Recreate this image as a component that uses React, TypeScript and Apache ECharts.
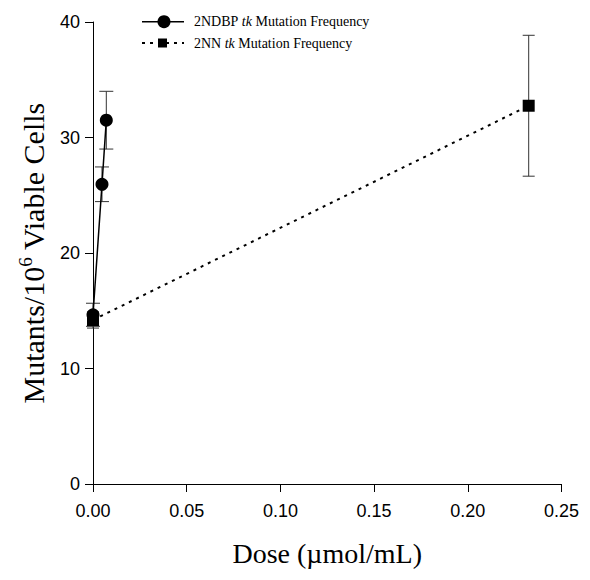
import React, { useEffect, useRef } from "react";
import * as echarts from "echarts";

const ndbpDose = [0, 0.0048, 0.0071];
const ndbpFreq = [14.65, 25.95, 31.5];
const ndbpErr = [1.0, 1.5, 2.5];
const nnDose = [0, 0.2325];
const nnFreq = [14.2, 32.75];
const nnErr = [0.7, 6.1];
const xTicks = [0, 0.05, 0.1, 0.15, 0.2, 0.25];
const yTicks = [0, 10, 20, 30, 40];

const serif = "'Liberation Serif', 'DejaVu Serif', serif";
const sans = "'Liberation Sans', Arial, sans-serif";

export default function App() {
  const ref = useRef<HTMLDivElement>(null);
  useEffect(() => {
    const chart = echarts.init(ref.current!, null, { renderer: "svg" });
    const errData = (xs: number[], ys: number[], es: number[]) =>
      xs.map((x, i) => [x, ys[i] - es[i], ys[i] + es[i]]);
    const errSeries = (data: number[][], w: number) => ({
      type: "custom",
      data,
      z: 1,
      renderItem: (params: any, api: any) => {
        const x = api.value(0);
        const lo = api.coord([x, api.value(1)]);
        const hi = api.coord([x, api.value(2)]);
        const style = { stroke: "#333", lineWidth: 1 };
        return {
          type: "group",
          children: [
            { type: "line", shape: { x1: lo[0], y1: lo[1], x2: hi[0], y2: hi[1] }, style },
            { type: "line", shape: { x1: lo[0] - w, y1: lo[1], x2: lo[0] + w, y2: lo[1] }, style },
            { type: "line", shape: { x1: hi[0] - w, y1: hi[1], x2: hi[0] + w, y2: hi[1] }, style },
          ],
        };
      },
    });
    const legendText = (name: string) => ({
      text: `{a|${name} }{i|tk}{a| Mutation Frequency}`,
      rich: {
        a: { fontFamily: serif, fontSize: 14, fill: "#000" },
        i: { fontFamily: serif, fontSize: 14, fontStyle: "italic", fill: "#000" },
      },
      verticalAlign: "middle",
    });
    chart.setOption({
      animation: false,
      backgroundColor: "#fff",
      grid: { left: 84.5, top: 14, right: 12, bottom: 75 },
      xAxis: {
        type: "value",
        min: xTicks[0],
        max: xTicks[xTicks.length - 1],
        interval: 0.05,
        axisLine: { lineStyle: { color: "#000", width: 1 } },
        axisTick: { show: true, length: 8, lineStyle: { color: "#000" } },
        splitLine: { show: false },
        axisLabel: {
          formatter: (v: number) => v.toFixed(2),
          fontFamily: sans,
          fontSize: 18,
          color: "#000",
          margin: 18,
        },
        name: "Dose (\u00b5mol/mL)",
        nameLocation: "middle",
        nameGap: 55,
        nameTextStyle: { fontFamily: serif, fontSize: 28, color: "#000" },
      },
      yAxis: {
        type: "value",
        min: yTicks[0],
        max: yTicks[yTicks.length - 1],
        interval: 10,
        axisLine: { show: true, lineStyle: { color: "#000", width: 1 } },
        axisTick: { show: true, length: 8, lineStyle: { color: "#000" } },
        splitLine: { show: false },
        axisLabel: { fontFamily: sans, fontSize: 18, color: "#000", margin: 13 },
        name: "{a|Mutants/10}{s|6}{a| Viable Cells}",
        nameLocation: "middle",
        nameGap: 43,
        nameTextStyle: {
          rich: {
            a: { fontFamily: serif, fontSize: 30, color: "#000" },
            s: { fontFamily: serif, fontSize: 19, color: "#000", verticalAlign: "top", padding: [0, 0, 15, 0] },
          },
        },
      },
      series: [
        errSeries(errData(ndbpDose, ndbpFreq, ndbpErr), 7),
        errSeries(errData(nnDose, nnFreq, nnErr), 6),
        {
          type: "line",
          data: nnDose.map((x, i) => [x, nnFreq[i]]),
          symbol: "rect",
          symbolSize: 12,
          itemStyle: { color: "#000" },
          lineStyle: { color: "#000", width: 2, type: [3, 5] },
          z: 3,
        },
        {
          type: "line",
          data: ndbpDose.map((x, i) => [x, ndbpFreq[i]]),
          symbol: "circle",
          symbolSize: 13,
          itemStyle: { color: "#000" },
          lineStyle: { color: "#000", width: 1.5 },
          z: 4,
        },
      ],
      graphic: [
        { type: "line", shape: { x1: 134, y1: 13.7, x2: 176, y2: 13.7 }, style: { stroke: "#000", lineWidth: 1.5 } },
        { type: "circle", shape: { cx: 156, cy: 13.7, r: 6.5 }, style: { fill: "#000" } },
        { type: "text", x: 186, y: 13.7, style: legendText("2NDBP") },
        { type: "line", shape: { x1: 134, y1: 35, x2: 176, y2: 35 }, style: { stroke: "#000", lineWidth: 2, lineDash: [3, 5] } },
        { type: "rect", shape: { x: 150, y: 30.5, width: 9, height: 9 }, style: { fill: "#000" } },
        { type: "text", x: 186, y: 35, style: legendText("2NN") },
      ],
    });
    return () => chart.dispose();
  }, []);
  return <div ref={ref} style={{ width: 574, height: 564 }} />;
}
